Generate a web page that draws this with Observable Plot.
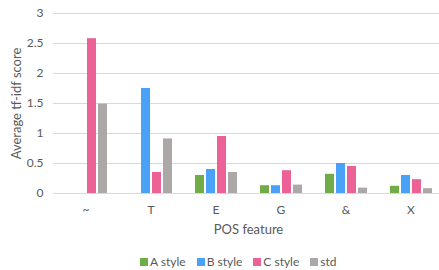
<!DOCTYPE html>
<html><head><meta charset="utf-8">
<script src="https://cdn.jsdelivr.net/npm/d3@7"></script>
<script src="https://cdn.jsdelivr.net/npm/@observablehq/plot@0.6"></script>
<style>
body{margin:0;background:#fff;font-family:Lato,"Open Sans",sans-serif;}
#wrap{position:relative;width:439px;height:270px;}
#legend{position:absolute;left:140px;top:255px;height:14px;display:flex;gap:11px;font-size:12px;line-height:14px;color:#595959;}
#legend .item{display:flex;align-items:center;gap:2px;}
#legend .sw{width:8px;height:8px;display:inline-block;}
</style>
</head><body><div id="wrap"><div id="chart"></div><div id="legend"></div></div><script>
const categories = ["~","T","E","G","&","X"];
const seriesNames = ["A style","B style","C style","std"];
const aStyle = [0,0,0.30,0.13,0.32,0.12];
const bStyle = [0,1.75,0.40,0.13,0.50,0.30];
const cStyle = [2.58,0.35,0.95,0.38,0.45,0.23];
const stdVals = [1.49,0.91,0.35,0.14,0.09,0.08];
const colors = ["#70ad47","#4aa2f8","#ec6296","#ada8a8"];
const yTicks = [0,0.5,1,1.5,2,2.5,3];

const data = [];
[aStyle,bStyle,cStyle,stdVals].forEach((arr,si)=>arr.forEach((v,ci)=>{
  data.push({cat:categories[ci], series:seriesNames[si], value:v});
}));

const plot = Plot.plot({
  width:439, height:245,
  marginTop:13, marginBottom:52, marginLeft:53, marginRight:0,
  style:{fontFamily:"Lato, 'Open Sans', sans-serif", fontSize:"12px", color:"#595959", background:"#fff", overflow:"visible"},
  fx:{domain:categories, range:[53,443], padding:0},
  x:{domain:seriesNames, paddingInner:0.2, paddingOuter:0.82, axis:null},
  y:{domain:[0,3]},
  color:{domain:seriesNames, range:colors},
  marks:[
    Plot.gridY(yTicks,{stroke:"#d9d9d9", strokeOpacity:1}),
    Plot.axisFx({anchor:"bottom", tickSize:0, tickPadding:12, fontSize:12, label:null}),
    Plot.axisFx({anchor:"bottom", ticks:[], tickSize:0, fontSize:13, label:"POS feature", labelAnchor:"center", labelOffset:40}),
    Plot.axisY(yTicks,{tickSize:0, tickPadding:10, fontSize:12, tickFormat:d=>String(d), label:null}),
    Plot.axisY({ticks:[], tickSize:0, fontSize:13, label:"Average tf-idf score", labelAnchor:"center", labelOffset:42, labelArrow:"none"}),
    Plot.barY(data,{fx:"cat", x:"series", y:"value", fill:"series"})
  ]
});
document.getElementById("chart").appendChild(plot);

const leg = document.getElementById("legend");
seriesNames.forEach((n,i)=>{
  const it = document.createElement("span"); it.className="item";
  const sw = document.createElement("span"); sw.className="sw"; sw.style.background=colors[i];
  const t = document.createElement("span"); t.textContent=n;
  it.appendChild(sw); it.appendChild(t); leg.appendChild(it);
});
</script></body></html>
